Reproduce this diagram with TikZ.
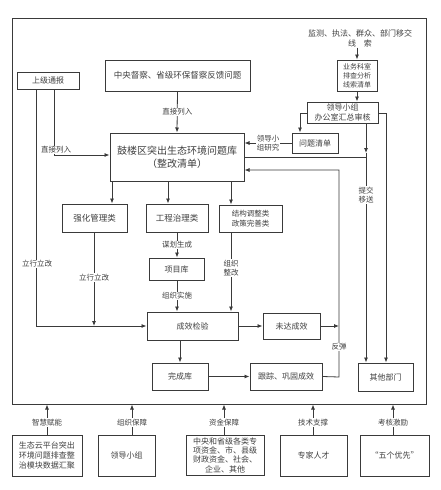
\documentclass[tikz,border=0pt]{standalone}
\usepackage{fontspec}
\setmainfont{Noto Sans CJK SC}
\usetikzlibrary{arrows.meta}
\definecolor{ln}{HTML}{3A3A3A}
\definecolor{tx}{HTML}{404040}
\tikzset{
  box/.style={draw=ln, line width=1pt, inner sep=1pt, align=center, text=tx, font=\fontsize{8}{9.8}\selectfont},
  conn/.style={draw=ln, line width=0.8pt},
  arr/.style={conn, -{Latex[length=5pt,width=4pt]}},
  lbl/.style={fill=white, inner sep=0.8pt, align=center, text=tx, font=\fontsize{7.5}{8.8}\selectfont},
}
\begin{document}
\begin{tikzpicture}[x=1pt,y=-1pt]
\useasboundingbox (0,0) rectangle (440,490);
\fill[white] (0,0) rectangle (440,490);
% frame
\node[draw=ln, line width=1pt, minimum width=414pt, minimum height=386pt, inner sep=0pt] (frame) at (219,211) {};
% top nodes
\node[box, minimum width=62pt, minimum height=17pt] (sjtb) at (48,80.5) {上级通报};
\node[box, minimum width=145pt, minimum height=31pt, font=\fontsize{8.5}{10}\selectfont] (zydc) at (177.5,75.5) {中央督察、省级环保督察反馈问题};
\node[lbl, font=\fontsize{8}{10}\selectfont] (src) at (360,38) {监测、执法、群众、部门移交\\线\quad 索};
\node[box, minimum width=40pt, minimum height=31pt, font=\fontsize{7}{9}\selectfont] (ywks) at (357,75.5) {业务科室\\排查分析\\线索清单};
\node[box, minimum width=71pt, minimum height=21pt, font=\fontsize{8}{9.5}\selectfont] (ldxz) at (342.5,112.5) {领导小组\\办公室汇总审核};
\node[box, minimum width=46pt, minimum height=20pt] (wtqd) at (315,143) {问题清单};
\node[box, minimum width=134pt, minimum height=48pt, font=\fontsize{10}{13}\selectfont] (main) at (177,157) {鼓楼区突出生态环境问题库\\（整改清单）};
% categories
\node[box, minimum width=65pt, minimum height=28pt, font=\fontsize{8.5}{10}\selectfont] (qhgl) at (94.5,218) {强化管理类};
\node[box, minimum width=62pt, minimum height=28pt, font=\fontsize{8.5}{10}\selectfont] (gczl) at (177,218) {工程治理类};
\node[box, minimum width=63pt, minimum height=27pt, font=\fontsize{7.5}{9.5}\selectfont] (jgtz) at (250.5,218.5) {结构调整类\\政策完善类};
\node[box, minimum width=55pt, minimum height=22pt] (xmk) at (176.5,269) {项目库};
\node[box, minimum width=91pt, minimum height=28pt] (cxjy) at (192.5,326) {成效检验};
\node[box, minimum width=57pt, minimum height=26pt] (wdcx) at (291.5,326) {未达成效};
\node[box, minimum width=56pt, minimum height=27pt] (wck) at (180,376.5) {完成库};
\node[box, minimum width=72pt, minimum height=27pt] (gzgg) at (286,376.5) {跟踪、巩固成效};
\node[box, minimum width=55pt, minimum height=28pt] (qtbm) at (385.5,377) {其他部门};
% bottom boxes
\node[box, minimum width=70pt, minimum height=41pt] (b1) at (47,455.5) {生态云平台突出\\环境问题排查整\\治模块数据汇聚};
\node[box, minimum width=57pt, minimum height=41pt] (b2) at (126.5,455.5) {领导小组};
\node[box, minimum width=78pt, minimum height=40pt, font=\fontsize{8}{9.3}\selectfont] (b3) at (225,455) {中央和省级各类专\\项资金、市、县级\\财政资金、社会、\\企业、其他};
\node[box, minimum width=67pt, minimum height=41pt] (b4) at (313.5,455.5) {专家人才};
\node[box, minimum width=69pt, minimum height=41pt] (b5) at (394.5,455.5) {“五个优先”};
% coordinates
\coordinate (ldxzW) at (300,113);
\coordinate (ldxzE) at (386,113);
\coordinate (mid366) at (366,153);
\coordinate (rb) at (339,377);
\coordinate (rt) at (339,170);
\coordinate (lcorner) at (54,155);
\coordinate (lcorner2) at (36,326);
% top-right flow
\draw[arr] (src.south -| ywks.north) -- (ywks.north);
\draw[arr] (ywks.south) -- (ywks.south |- ldxz.north);
\draw[arr] (ldxz.west |- ldxzW) -- (ldxzW) -- (ldxzW |- wtqd.north);
\draw[arr] (wtqd.west) -- (wtqd.west -| main.east) node[lbl, midway] {领导小\\组研究};
\draw[arr] (ldxz.south -| mid366) -- (mid366);
\draw[arr] (mid366) -- (mid366 |- qtbm.north) node[lbl, pos=0.2] {提交\\移送};
\draw[conn] (main.east |- 0,157) -- (366,157);
\draw[arr] (ldxz.east |- ldxzE) -- (ldxzE) -- (ldxzE |- qtbm.north);
% main inputs
\draw[arr] (zydc.south) -- (main.north) node[lbl, midway] {直接列入};
\draw[arr] (sjtb.south -| lcorner) -- (lcorner) -- (lcorner -| main.west);
\node[lbl] at (56,150) {直接列入};
\draw[arr] (sjtb.south -| lcorner2) -- (lcorner2) -- (lcorner2 -| cxjy.west);
\node[lbl] at (37,264) {立行立改};
% main outputs
\draw[arr] (main.south -| 112,0) -- (qhgl.north -| 112,0);
\draw[arr] (main.south -| 168,0) -- (gczl.north -| 168,0);
\draw[arr] (main.south -| 231,0) -- (jgtz.north -| 231,0);
\draw[arr] (qhgl.south -| 94,0) -- (94,326) node[lbl, pos=0.48] {立行立改};
\draw[arr] (gczl.south) -- (xmk.north -| gczl.south) node[lbl, midway] {谋划生成};
\draw[arr] (xmk.south -| gczl.south) -- (cxjy.north -| gczl.south) node[lbl, midway] {组织实施};
\draw[arr] (jgtz.south -| 231,0) -- (cxjy.north -| 231,0) node[lbl, pos=0.45] {组织\\整改};
% verification loop
\draw[arr] (cxjy.east) -- (wdcx.west);
\draw[arr] (wdcx.east) -- (wdcx.east -| rb);
\draw[arr] (cxjy.south -| wck.north) -- (wck.north);
\draw[arr] (wck.east) -- (gzgg.west);
\draw[arr] (gzgg.east) -- (rb) -- (rt) -- (rt -| main.east);
\node[lbl] at (339,347) {反弹};
% bottom supports
\draw[arr] (b1.north) -- (b1.north |- frame.south) node[lbl, pos=0.4] {智慧赋能};
\draw[arr] (b2.north -| 132,0) -- (frame.south -| 132,0) node[lbl, pos=0.4] {组织保障};
\draw[arr] (b3.north -| 224,0) -- (frame.south -| 224,0) node[lbl, pos=0.4] {资金保障};
\draw[arr] (b4.north -| 313,0) -- (frame.south -| 313,0) node[lbl, pos=0.4] {技术支撑};
\draw[arr] (b5.north -| 393,0) -- (frame.south -| 393,0) node[lbl, pos=0.4] {考核激励};
\end{tikzpicture}
\end{document}
